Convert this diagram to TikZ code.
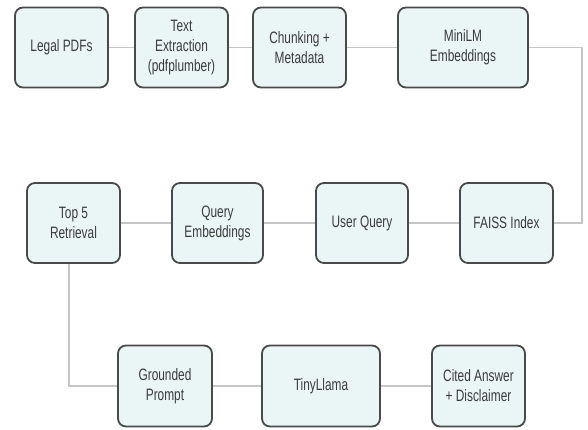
\documentclass[tikz,border=0pt]{standalone}
\usepackage{fontspec}
\setmainfont{Liberation Sans}[FakeStretch=0.72]
\definecolor{boxfill}{HTML}{EAF6F6}
\definecolor{boxdraw}{HTML}{4A4A4A}
\definecolor{linkcol}{HTML}{C6C6C6}
\definecolor{txtcol}{HTML}{3C3C3C}
\tikzset{
  box/.style={draw=boxdraw, line width=1.8pt, fill=boxfill, rounded corners=8pt,
    align=center, text=txtcol, font=\fontsize{16.5}{20}\selectfont, inner sep=0pt},
  link/.style={draw=linkcol, line width=1.4pt}
}
\begin{document}
\begin{tikzpicture}[x=1pt,y=-1pt]
\useasboundingbox (0,0) rectangle (588,429);
% row 1
\node[box, minimum width=93pt, minimum height=80pt] (legal) at (61.5,47.5) {Legal PDFs};
\node[box, minimum width=93pt, minimum height=80pt] (extract) at (181.5,47.5) {Text\\Extraction\\(pdfplumber)};
\node[box, minimum width=93pt, minimum height=80pt] (chunk) at (299.5,47.5) {Chunking +\\Metadata};
\node[box, minimum width=130pt, minimum height=80pt] (minilm) at (463,47.5) {MiniLM\\Embeddings};
% row 2
\node[box, minimum width=93pt, minimum height=80pt] (top5) at (73.5,223) {Top 5\\Retrieval};
\node[box, minimum width=91pt, minimum height=80pt] (qemb) at (217.5,223) {Query\\Embeddings};
\node[box, minimum width=92pt, minimum height=80pt] (uq) at (362,223) {User Query};
\node[box, minimum width=93pt, minimum height=80pt] (faiss) at (506.5,223) {FAISS Index};
% row 3
\node[box, minimum width=94pt, minimum height=81pt] (ground) at (165,386) {Grounded\\Prompt};
\node[box, minimum width=118pt, minimum height=81pt] (tiny) at (321,386) {TinyLlama};
\node[box, minimum width=93pt, minimum height=81pt] (cited) at (478.5,386) {Cited Answer\\+ Disclaimer};
% connector bend points
\coordinate (rtop) at (582,47.5);
\coordinate (rbot) at (582,223);
\coordinate (lbot) at (69,386);
% connectors
\draw[link] (legal) -- (extract);
\draw[link] (extract) -- (chunk);
\draw[link] (chunk) -- (minilm);
\draw[link] (minilm.east) -- (rtop) -- (rbot) -- (faiss.east);
\draw[link] (faiss) -- (uq);
\draw[link] (uq) -- (qemb);
\draw[link] (qemb) -- (top5);
\draw[link] (top5.south -| lbot) -- (lbot) -- (ground.west);
\draw[link] (ground) -- (tiny);
\draw[link] (tiny) -- (cited);
\end{tikzpicture}
\end{document}
